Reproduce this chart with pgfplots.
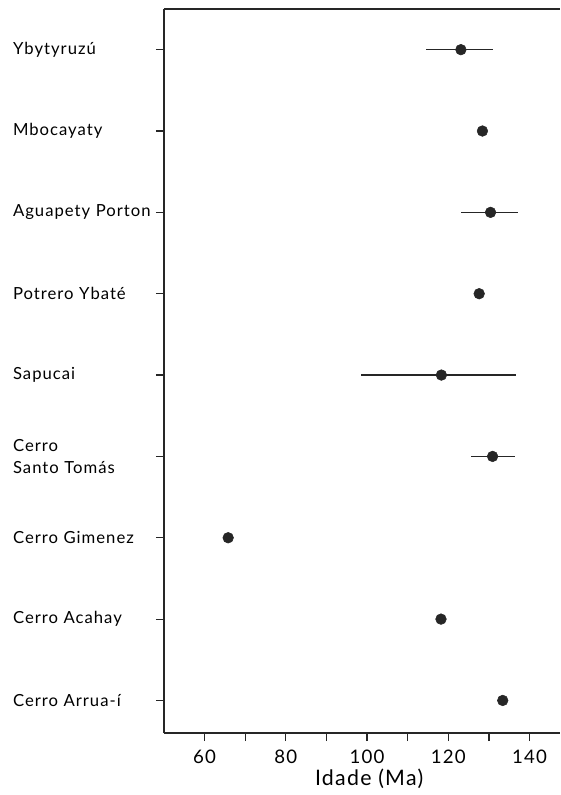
\documentclass[border=0pt]{standalone}
\usepackage{pgfplots}
\pgfplotsset{compat=1.18}
\usepackage{fontspec}
\setmainfont{Lato}
\newfontfamily\lbl[LetterSpace=6]{Lato}
\definecolor{ink}{gray}{0.15}
\pgfplotstableread{
x y em ep
133.4 0 0 0
118.2 1 0 0
65.8 2 0 0
130.9 3 5.2 5.5
118.3 4 19.8 18.3
127.6 5 0 0
130.4 6 7.3 6.8
128.4 7 0 0
123.1 8 8.5 7.9
}\ages
\begin{document}
\begin{tikzpicture}
\begin{axis}[
 name=ax,
 width=297pt, height=543pt, scale only axis,
 xmin=50, xmax=147.5, ymin=-0.4, ymax=8.5,
 axis x line*=bottom, axis y line*=left,
 xtick={60,80,100,120,140}, minor xtick={70,90,110,130},
 ytick={0,...,8},
 yticklabels={Cerro Arrua-í, Cerro Acahay, Cerro Gimenez, {Cerro\\Santo Tomás}, Sapucai, Potrero Ybaté, Aguapety Porton, Mbocayaty, Ybytyruzú},
 tick align=outside, major tick length=6pt, minor tick length=6pt,
 tick style={ink, line width=0.9pt},
 axis line style={ink, line width=1pt, -},
 yticklabel style={text width=107pt, align=left, inner sep=0pt, font=\lbl\fontsize{12.5}{17}\selectfont},
 xticklabel style={font=\lbl\fontsize{14}{16}\selectfont, yshift=-3pt},
 xlabel={Idade (Ma)},
 xlabel style={font=\lbl\fontsize{16}{18}\selectfont, at={(ticklabel cs:0.518)}, anchor=near ticklabel, yshift=3pt},
 /pgf/number format/assume math mode=true,
 clip=false,
]
\addplot[only marks, mark=*, mark size=4pt, ink,
  error bars/.cd, x dir=both, x explicit, error mark=none,
  error bar style={line width=1.2pt, ink}]
  table[x=x, y=y, x error plus=ep, x error minus=em] {\ages};
\draw[ink, line width=1pt] (rel axis cs:0,1) -- (rel axis cs:1,1);
\end{axis}
\pgfresetboundingbox
\path[use as bounding box] ([xshift=-123pt,yshift=-46.5pt]ax.south west) rectangle ([yshift=6.75pt]ax.north east);
\end{tikzpicture}
\end{document}
